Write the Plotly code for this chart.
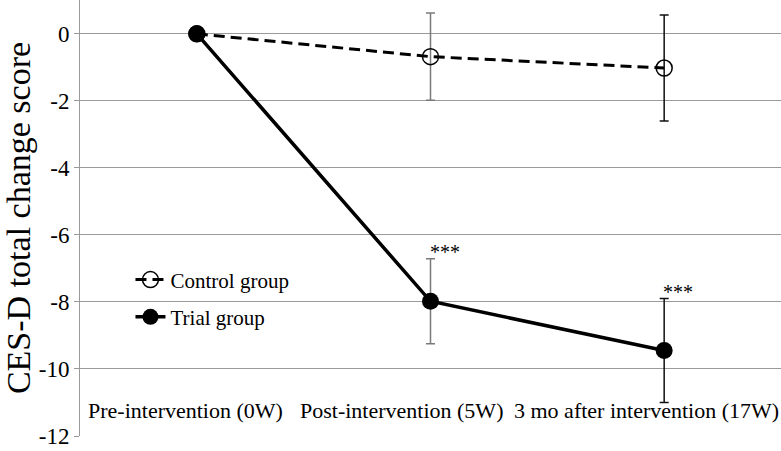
import plotly.graph_objects as go

categories = ["Pre-intervention (0W)", "Post-intervention (5W)", "3 mo after intervention (17W)"]
control_values = [0.0, -0.68, -1.02]
control_err = [0.0, 1.3, 1.58]
trial_values = [0.0, -7.98, -9.45]
trial_err = [0.0, 1.27, 1.55]
err_colors = ["#000000", "#7a7a7a", "#111111"]
sig_labels = ["", "***", "***"]
y_ticks = [0, -2, -4, -6, -8, -10, -12]

# horizontal nudges (px) of the category labels, as laid out in the original
label_shift = [-11, -29, -18]

FONT = "Liberation Serif, Times New Roman, serif"

fig = go.Figure()
x_idx = list(range(len(categories)))

# error bars (drawn first, per point so their colours can differ)
for vals, errs in ((control_values, control_err), (trial_values, trial_err)):
    for i in x_idx:
        if errs[i] > 0:
            fig.add_trace(go.Scatter(
                x=[i], y=[vals[i]], mode="markers", showlegend=False, hoverinfo="skip",
                marker=dict(size=1, color="rgba(0,0,0,0)"),
                error_y=dict(type="data", array=[errs[i]], color=err_colors[i], thickness=1.5, width=4.5),
            ))

fig.add_trace(go.Scatter(
    x=x_idx, y=control_values, mode="lines+markers", name="Control group", legendgroup="c",
    line=dict(color="black", width=3, dash="11px,6px"),
    marker=dict(symbol="circle-open", size=16, color="black", line=dict(width=1.5)),
))
fig.add_trace(go.Scatter(
    x=x_idx, y=trial_values, mode="lines+markers", name="Trial group", legendgroup="t",
    line=dict(color="black", width=3.5),
    marker=dict(symbol="circle", size=17, color="black"),
))

annotations = []
for i, cat in enumerate(categories):
    annotations.append(dict(x=i, y=-11.25, xref="x", yref="y", text=cat, showarrow=False,
                            xshift=label_shift[i],
                            font=dict(family=FONT, size=22, color="black")))
for i, s in enumerate(sig_labels):
    if s:
        annotations.append(dict(x=i, y=trial_values[i] + trial_err[i], xref="x", yref="y",
                                text=s, showarrow=False, xanchor="left", yanchor="bottom",
                                xshift=-3, yshift=-6,
                                font=dict(family=FONT, size=20, color="black")))

fig.update_layout(
    width=781, height=451,
    margin=dict(l=80, r=0, t=0, b=15),
    paper_bgcolor="white", plot_bgcolor="white",
    font=dict(family=FONT, size=21, color="black"),
    showlegend=True,
    legend=dict(x=0.072, y=0.405, xanchor="left", yanchor="top", bgcolor="rgba(0,0,0,0)",
                font=dict(family=FONT, size=21), tracegroupgap=7),
    annotations=annotations,
)
fig.update_xaxes(range=[-0.5, 2.5], showticklabels=False, showgrid=False, zeroline=False,
                 showline=False, ticks="")
fig.update_yaxes(range=[-12, 1.01], tickvals=y_ticks, ticktext=[str(v) for v in y_ticks],
                 showgrid=True, gridcolor="#9a9a9a", gridwidth=1, zeroline=False,
                 showline=True, linecolor="#9a9a9a", linewidth=1, ticks="outside", ticklen=5,
                 tickcolor="#9a9a9a", tickfont=dict(family=FONT, size=23),
                 title=dict(text="CES-D total change score", font=dict(family=FONT, size=34), standoff=4))

fig.write_html("out.html", config={"displayModeBar": False},
               post_script="document.body.style.margin='0';")
